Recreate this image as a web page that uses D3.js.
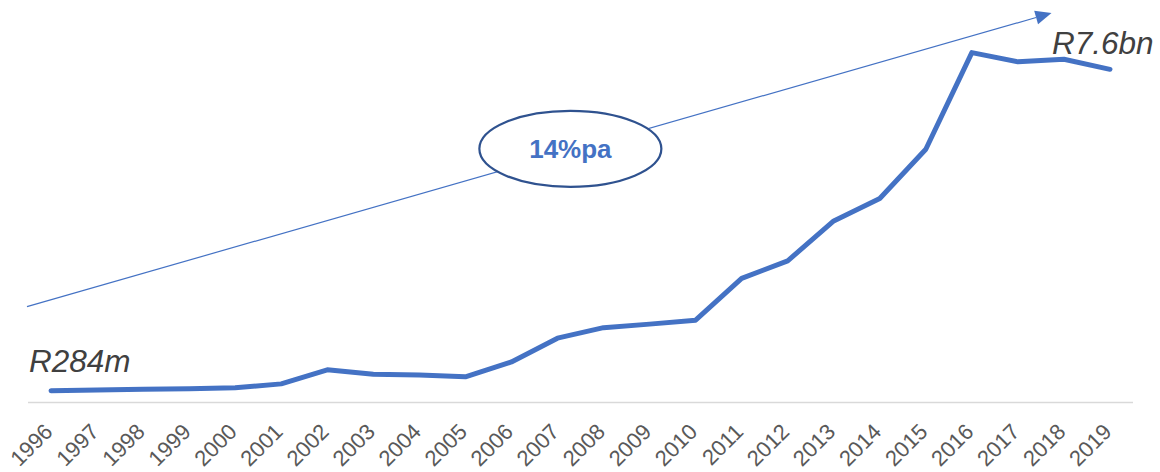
<!DOCTYPE html>
<html>
<head>
<meta charset="utf-8">
<script src="https://cdn.jsdelivr.net/npm/d3@7"></script>
<style>
  html, body { margin: 0; padding: 0; background: #ffffff; }
  svg { display: block; }
</style>
</head>
<body>
<svg id="chart" width="1160" height="472"></svg>
<script>
// ---- data ----
const years = ["1996","1997","1998","1999","2000","2001","2002","2003","2004","2005","2006","2007","2008","2009","2010","2011","2012","2013","2014","2015","2016","2017","2018","2019"];
const values = [0.284,0.30,0.32,0.33,0.35,0.44,0.76,0.66,0.64,0.60,0.94,1.48,1.72,1.80,1.89,2.84,3.24,4.15,4.66,5.78,7.98,7.77,7.83,7.60];
const startLabel = "R284m";
const endLabel = "R7.6bn";
const growthLabel = "14%pa";

// ---- layout ----
const plotLeft = 28, plotRight = 1133;
const yZero = 403.2, pxPerBn = 43.93;
const FONT = "'Liberation Sans', Arial, Helvetica, sans-serif";

const svg = d3.select("#chart");

const x = d3.scaleBand().domain(years).range([plotLeft, plotRight]).padding(0);
const y = d3.scaleLinear().domain([0, 9]).range([yZero, yZero - 9 * pxPerBn]);
const cx = d => x(d) + x.bandwidth() / 2;

// axis line
svg.append("line")
  .attr("x1", plotLeft).attr("x2", plotRight)
  .attr("y1", 402.5).attr("y2", 402.5)
  .attr("stroke", "#d9d9d9").attr("stroke-width", 1.5);

// tick labels
svg.append("g").selectAll("text").data(years).join("text")
  .attr("transform", d => `translate(${cx(d) + 3},433) rotate(-45)`)
  .attr("text-anchor", "end")
  .attr("font-family", FONT)
  .attr("font-size", 22)
  .attr("fill", "#595959")
  .text(d => d);

// trend arrow (annotation, in data units)
const arrowStart = [plotLeft - 1, y(2.2)];
const arrowEnd = [cx("2017") + 0.73 * x.bandwidth(), y(8.88)];
const ang = Math.atan2(arrowEnd[1] - arrowStart[1], arrowEnd[0] - arrowStart[0]);
const headLen = 16, headHalf = 7;
const baseX = arrowEnd[0] - headLen * Math.cos(ang), baseY = arrowEnd[1] - headLen * Math.sin(ang);
svg.append("line")
  .attr("x1", arrowStart[0]).attr("y1", arrowStart[1])
  .attr("x2", baseX).attr("y2", baseY)
  .attr("stroke", "#4472c4").attr("stroke-width", 1.2);
svg.append("polygon")
  .attr("points", [
    arrowEnd,
    [baseX + headHalf * Math.sin(ang), baseY - headHalf * Math.cos(ang)],
    [baseX - headHalf * Math.sin(ang), baseY + headHalf * Math.cos(ang)]
  ].map(p => p.join(",")).join(" "))
  .attr("fill", "#4472c4");

// growth ellipse
const ex = cx("2007") + 0.28 * x.bandwidth(), ey = y(5.79);
svg.append("ellipse")
  .attr("cx", ex).attr("cy", ey).attr("rx", 91).attr("ry", 38)
  .attr("fill", "#ffffff").attr("stroke", "#2f528f").attr("stroke-width", 2.2);
svg.append("text")
  .attr("x", ex).attr("y", ey + 9)
  .attr("text-anchor", "middle")
  .attr("font-family", FONT)
  .attr("font-weight", "bold")
  .attr("font-size", 26)
  .attr("fill", "#4472c4")
  .text(growthLabel);

// main line
const line = d3.line().x((d, i) => cx(years[i])).y(d => y(d));
svg.append("path")
  .datum(values)
  .attr("d", line)
  .attr("fill", "none")
  .attr("stroke", "#4472c4")
  .attr("stroke-width", 5)
  .attr("stroke-linecap", "round")
  .attr("stroke-linejoin", "round");

// value labels
svg.append("text")
  .attr("x", plotLeft + 1).attr("y", 372)
  .attr("font-family", FONT)
  .attr("font-style", "italic")
  .attr("font-size", 31.5)
  .attr("fill", "#404040")
  .text(startLabel);
svg.append("text")
  .attr("x", 1052).attr("y", 54)
  .attr("font-family", FONT)
  .attr("font-style", "italic")
  .attr("font-size", 31.5)
  .attr("fill", "#404040")
  .text(endLabel);
</script>
</body>
</html>
